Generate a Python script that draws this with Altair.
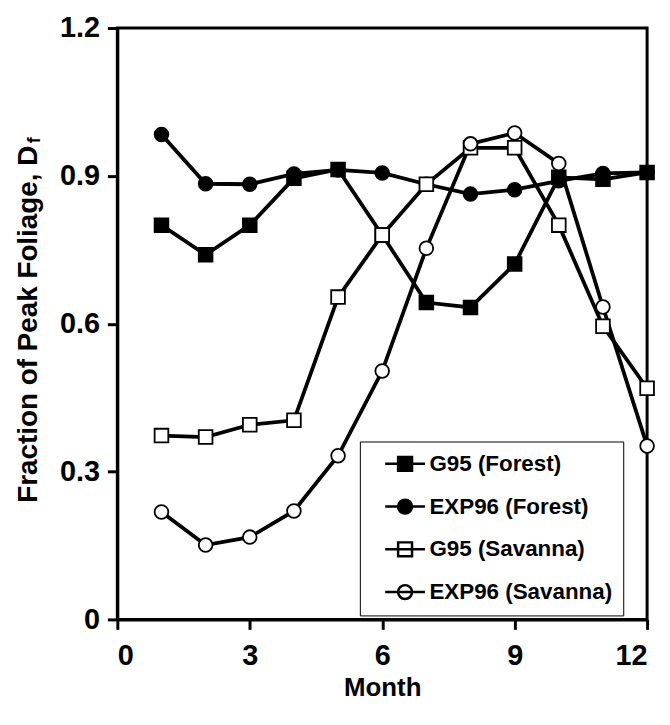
import altair as alt
import pandas as pd

months = list(range(1, 13))
series_names = ["G95 (Forest)", "EXP96 (Forest)", "G95 (Savanna)", "EXP96 (Savanna)"]
g95_forest = [0.800, 0.740, 0.800, 0.895, 0.913, 0.780, 0.643, 0.633, 0.721, 0.897, 0.893, 0.907]
exp96_forest = [0.984, 0.884, 0.883, 0.904, 0.912, 0.906, 0.883, 0.863, 0.872, 0.890, 0.905, 0.907]
g95_savanna = [0.373, 0.370, 0.395, 0.404, 0.654, 0.780, 0.883, 0.957, 0.957, 0.800, 0.595, 0.469]
exp96_savanna = [0.218, 0.151, 0.167, 0.220, 0.332, 0.504, 0.753, 0.965, 0.987, 0.925, 0.634, 0.352]
x_ticks = [0, 3, 6, 9, 12]
y_ticks = [0, 0.3, 0.6, 0.9, 1.2]
y_title = "Fraction of Peak Foliage, D"
y_title_sub = "f"

rows = []
for name, vals in zip(series_names, [g95_forest, exp96_forest, g95_savanna, exp96_savanna]):
    for m, v in zip(months, vals):
        rows.append({"series": name, "month": m, "value": v})
df = pd.DataFrame(rows)

FONT = "Liberation Sans"

# legend symbols: a line with a marker on it (unit grid scaled by sqrt(size)/2)
sq = "M-2,0H2M-0.7,-0.7H0.7V0.7H-0.7Z"
ci = "M-2,0H2M-0.7,0A0.7,0.7 0 1,0 0.7,0A0.7,0.7 0 1,0 -0.7,0Z"
legend_paths = [sq, ci, sq, ci]
fills = ["black", "black", "white", "white"]
strokes = ["black", "black", "black", "black"]

x_enc = alt.X("month:Q", scale=alt.Scale(domain=[0, 12], nice=False, zero=False),
              axis=alt.Axis(values=x_ticks, title="Month", labelExpr="format(datum.value, 'd')"))
y_enc = alt.Y("value:Q", scale=alt.Scale(domain=[0, 1.2], nice=False),
              axis=alt.Axis(values=y_ticks, title=y_title,
                            labelExpr="datum.value == 0 ? '0' : format(datum.value, '.1f')"))

base = alt.Chart(df)

lines = base.mark_line(color="black", strokeWidth=3.8).encode(
    x=x_enc, y=y_enc, detail="series:N", order="month:Q"
)

points = base.mark_point(filled=True, size=190, stroke="black", strokeWidth=1.8, opacity=1).encode(
    x="month:Q", y="value:Q",
    shape=alt.Shape("series:N", scale=alt.Scale(domain=series_names,
                    range=["square", "circle", "square", "circle"]), legend=None),
    fill=alt.Fill("series:N", scale=alt.Scale(domain=series_names, range=fills), legend=None),
)

leg = alt.Legend(
    title=None, orient="none", legendX=244, legendY=416,
    symbolSize=400, symbolStrokeWidth=2.5, symbolOpacity=1,
    symbolOffset=23,
    labelFont=FONT, labelFontWeight="bold", labelFontSize=22.5, labelColor="black",
    labelLimit=500, labelOffset=13,
    labelExpr="datum.label + '\u2003'",
    strokeColor="black", fillColor="white", padding=11, rowPadding=18,
)

legend_layer = base.transform_filter("datum.month < 0").mark_point(
    filled=True, size=400, strokeWidth=2.5, opacity=1
).encode(
    x="month:Q", y="value:Q",
    shape=alt.Shape("series:N", scale=alt.Scale(domain=series_names, range=legend_paths), legend=leg),
    fill=alt.Fill("series:N", scale=alt.Scale(domain=series_names, range=fills), legend=leg),
    stroke=alt.Stroke("series:N", scale=alt.Scale(domain=series_names, range=strokes), legend=leg),
)

sub = alt.Chart(pd.DataFrame({"t": [y_title_sub]})).mark_text(
    font=FONT, fontWeight="bold", fontSize=18, angle=270, align="center", baseline="middle", color="black"
).encode(x=alt.value(-83), y=alt.value(113), text="t:N")

chart = alt.layer(lines, points, legend_layer, sub).resolve_scale(
    shape="independent", fill="independent", stroke="independent"
).properties(
    width=533, height=595,
    autosize=alt.AutoSizeParams(type="none"),
    padding={"left": 110, "top": 18, "right": 15, "bottom": 90},
).configure_view(
    stroke="black", strokeWidth=3
).configure_axis(
    grid=False, domainColor="black", domainWidth=3, tickColor="black", tickWidth=3, tickSize=10,
    labelFont=FONT, labelFontWeight="bold", labelFontSize=29, labelColor="black",
    titleFont=FONT, titleFontWeight="bold", titleColor="black",
).configure_axisX(
    labelPadding=12, titlePadding=5, titleFontSize=26
).configure_axisY(
    labelPadding=8, titlePadding=17, titleFontSize=28
)

chart.save("out.html", embed_options={"renderer": "svg", "actions": False})
